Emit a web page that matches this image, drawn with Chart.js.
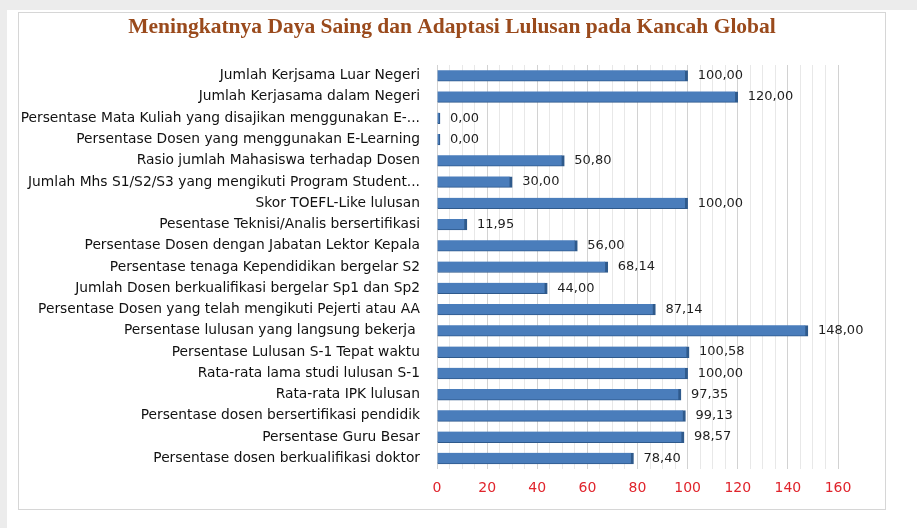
<!DOCTYPE html>
<html>
<head>
<meta charset="utf-8">
<script src="https://cdn.jsdelivr.net/npm/chart.js@4"></script>
<style>
    body { margin: 0; background: #ffffff; }
    #page { position: relative; width: 917px; height: 528px; overflow: hidden; }
    .band { position: absolute; background: #ececec; }
    #card { position: absolute; left: 18px; top: 12px; width: 866px; height: 496px; border: 1px solid #d6d6d6; background: #fff; }
    canvas { position: absolute; left: 0; top: 0; }
</style>
</head>
<body>
<div id="page">
    <div class="band" style="left:0;top:0;width:917px;height:10px;"></div>
    <div class="band" style="left:0;top:0;width:7px;height:528px;"></div>
    <div id="card"></div>
    <canvas id="Chart1" width="917" height="528"></canvas>
</div>
<script>
// chart data
const chartTitle = 'Meningkatnya Daya Saing dan Adaptasi Lulusan pada Kancah Global';

const categories = [
    'Jumlah Kerjsama Luar Negeri',
    'Jumlah Kerjasama dalam Negeri',
    'Persentase Mata Kuliah yang disajikan menggunakan E-...',
    'Persentase Dosen yang menggunakan E-Learning',
    'Rasio jumlah Mahasiswa terhadap Dosen',
    'Jumlah Mhs S1/S2/S3 yang mengikuti Program Student...',
    'Skor TOEFL-Like lulusan',
    'Pesentase Teknisi/Analis bersertifikasi',
    'Persentase Dosen dengan Jabatan Lektor Kepala',
    'Persentase tenaga Kependidikan bergelar S2',
    'Jumlah Dosen berkualifikasi bergelar Sp1 dan Sp2',
    'Persentase Dosen yang telah mengikuti Pejerti atau AA',
    'Persentase lulusan yang langsung bekerja ',
    'Persentase Lulusan S-1 Tepat waktu',
    'Rata-rata lama studi lulusan S-1',
    'Rata-rata IPK lulusan',
    'Persentase dosen bersertifikasi pendidik',
    'Persentase Guru Besar',
    'Persentase dosen berkualifikasi doktor'
];

const values = [100, 120, 0, 0, 50.8, 30, 100, 11.95, 56, 68.14, 44, 87.14, 148, 100.58, 100, 97.35, 99.13, 98.57, 78.4];

const xTicks = [0, 20, 40, 60, 80, 100, 120, 140, 160];

const FONT = "'DejaVu Sans', Verdana, sans-serif";

// title drawn by hand so it can sit centred on the card
const titlePlugin = {
    id: 'titleText',
    afterDraw(chart) {
        const ctx = chart.ctx;
        ctx.save();
        ctx.font = "bold 21.5px 'Liberation Serif', serif";
        ctx.fillStyle = '#9a4a1c';
        ctx.textAlign = 'center';
        ctx.textBaseline = 'middle';
        ctx.fillText(chartTitle, 452, 27);
        ctx.restore();
    }
};

// value labels at the bar ends
const valueLabels = {
    id: 'valueLabels',
    afterDatasetsDraw(chart) {
        const ctx = chart.ctx;
        const meta = chart.getDatasetMeta(0);
        ctx.save();
        ctx.font = '13px ' + FONT;
        ctx.fillStyle = '#1e1e1e';
        ctx.textAlign = 'left';
        ctx.textBaseline = 'middle';
        meta.data.forEach((bar, i) => {
            let txt = values[i].toFixed(2).replace('.', ',');
            let x = Math.max(bar.x, chart.chartArea.left + 3) + 10;
            ctx.fillText(txt, x, bar.y);
        });
        ctx.restore();
    }
};

let chart = new Chart(document.getElementById('Chart1').getContext('2d'), {
    type: 'bar',
    data: {
        labels: categories,
        datasets: [{
            data: values,
            backgroundColor: '#4a7dbb',
            borderColor: '#2f5a8c',
            borderWidth: { top: 0, right: 3, bottom: 1, left: 0 },
            borderSkipped: false,
            barThickness: 11,
            minBarLength: 3
        }]
    },
    options: {
        indexAxis: 'y',
        responsive: false,
        animation: false,
        layout: { padding: { left: 0, right: 79, top: 65, bottom: 0 } },
        plugins: {
            legend: { display: false },
            tooltip: { enabled: false }
        },
        scales: {
            x: {
                min: 0,
                max: 160,
                border: { display: false },
                grid: {
                    drawTicks: false,
                    color: (c) => (c.tick && c.tick.value % 20 === 0) ? '#d2d2d2' : '#e8e8e8'
                },
                ticks: {
                    stepSize: 5,
                    autoSkip: false,
                    maxRotation: 0,
                    padding: 11,
                    color: '#e0242c',
                    font: { family: FONT, size: 14 },
                    callback: (v) => xTicks.includes(v) ? v : ''
                },
                afterFit: (scale) => { scale.height = 528 - 469; }
            },
            y: {
                border: { display: false },
                grid: { display: false, drawTicks: false },
                ticks: {
                    padding: 17,
                    color: '#111111',
                    font: { family: FONT, size: 13.8 },
                    autoSkip: false
                },
                afterFit: (scale) => { scale.width = 437; }
            }
        }
    },
    plugins: [titlePlugin, valueLabels]
});
</script>
</body>
</html>
